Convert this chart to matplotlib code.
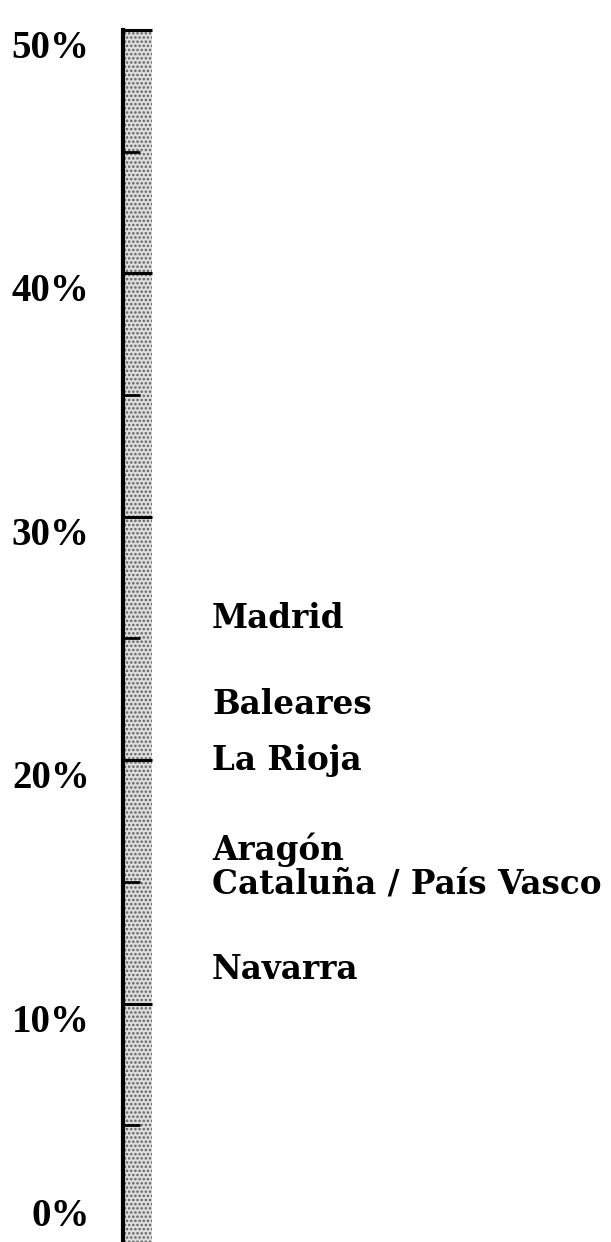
import matplotlib.pyplot as plt
from matplotlib.ticker import MultipleLocator, FuncFormatter
from matplotlib.transforms import ScaledTranslation

# share of each region (percent)
regiones = ["Madrid", "Baleares", "La Rioja", "Aragón",
            "Cataluña / País Vasco", "Navarra"]
valores = [25.8, 22.3, 20.0, 16.3, 14.9, 11.4]

escala_max = 50

plt.rcParams['hatch.linewidth'] = 1.2

fig = plt.figure(figsize=(6.11, 12.42), dpi=100)
# axes runs a few pixels past the bottom edge so 0% sits just off the sheet
ax = fig.add_axes([123 / 611, -5 / 1242, 488 / 611, 1247 / 1242])

# stippled scale bar
ax.bar(0, escala_max, width=29 / 488, align='edge', bottom=0,
       color='#dedede', hatch='....', edgecolor='#606060', linewidth=0, zorder=1)

for nombre, v in zip(regiones, valores):
    ax.text(89 / 488, v, nombre, va='center', ha='left', fontsize=23.5,
            fontweight='bold', family='DejaVu Serif')

ax.set_xlim(0, 1)
ax.set_ylim(0, 51.23)

for s in ['top', 'right', 'bottom']:
    ax.spines[s].set_visible(False)
ax.spines['left'].set_linewidth(3)
ax.spines['left'].set_bounds(0, escala_max)
ax.spines['left'].set_zorder(3)

ax.set_xticks([])
ax.yaxis.set_major_locator(MultipleLocator(10))
ax.yaxis.set_minor_locator(MultipleLocator(5))
ax.yaxis.set_major_formatter(FuncFormatter(lambda v, p: f"{v:.0f}%"))
ax.tick_params(axis='y', which='major', direction='in', length=21, width=2.2,
               pad=24, labelsize=28)
ax.tick_params(axis='y', which='minor', direction='in', length=12, width=2)
fig.canvas.draw()
for lab in ax.get_yticklabels():
    lab.set_family('Liberation Serif')
    lab.set_fontweight('bold')
    lab.set_va('top')
    if lab.get_text() == '0%':
        # bottom label lifted so it stays on the sheet
        lab.set_va('bottom')
        lab.set_transform(lab.get_transform()
                          + ScaledTranslation(0, 0.12, fig.dpi_scale_trans))

fig.savefig('out.png', dpi=100)
